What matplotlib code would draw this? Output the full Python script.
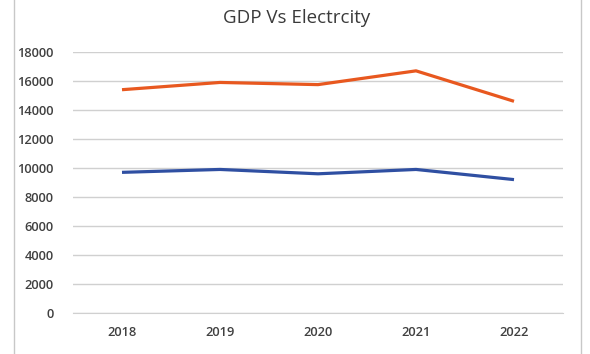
import matplotlib

matplotlib.use("Agg")
import matplotlib.pyplot as plt
from matplotlib.lines import Line2D

# Data
years = ["2018", "2019", "2020", "2021", "2022"]
gdp = [15400, 15900, 15750, 16700, 14600]
electricity = [9700, 9900, 9600, 9900, 9200]
y_ticks = [0, 2000, 4000, 6000, 8000, 10000, 12000, 14000, 16000, 18000]

plt.rcParams["font.family"] = ["Open Sans", "DejaVu Sans"]

fig = plt.figure(figsize=(5.9, 3.54), dpi=100)
ax = fig.add_axes([73 / 590, 1 - 313 / 354, 490 / 590, 261 / 354])

x = range(len(years))
ax.plot(x, gdp, color="#E8581F", linewidth=2.3, solid_capstyle="butt")
ax.plot(x, electricity, color="#2F4FA2", linewidth=2.3, solid_capstyle="butt")

ax.set_xlim(-0.5, len(years) - 0.5)
ax.set_ylim(0, 18000)
ax.set_yticks(y_ticks)
ax.set_yticklabels([str(v) for v in y_ticks])
ax.set_xticks(list(x))
ax.set_xticklabels(years)

ax.grid(axis="y", color="#d0d0d0", linewidth=1.0)
ax.set_axisbelow(True)
for side in ["top", "right", "left"]:
    ax.spines[side].set_visible(False)
ax.spines["bottom"].set_color("#d0d0d0")
ax.tick_params(axis="both", length=0, labelsize=9.3, colors="#404040")
ax.tick_params(axis="y", pad=14)
ax.tick_params(axis="x", pad=9)
for lbl in ax.get_xticklabels() + ax.get_yticklabels():
    lbl.set_fontweight("semibold")

fig.text(297 / 590, 1 - 18 / 354, "GDP Vs Electrcity", ha="center", va="center",
         fontsize=13.5, color="#3a3a3a")

# chart-area border (only sides visible in the crop)
for xp in (13.5 / 590, 580.5 / 590):
    fig.add_artist(Line2D([xp, xp], [0, 1], transform=fig.transFigure,
                          color="#c8c8c8", linewidth=1.0))

fig.savefig("out.png", dpi=100)
